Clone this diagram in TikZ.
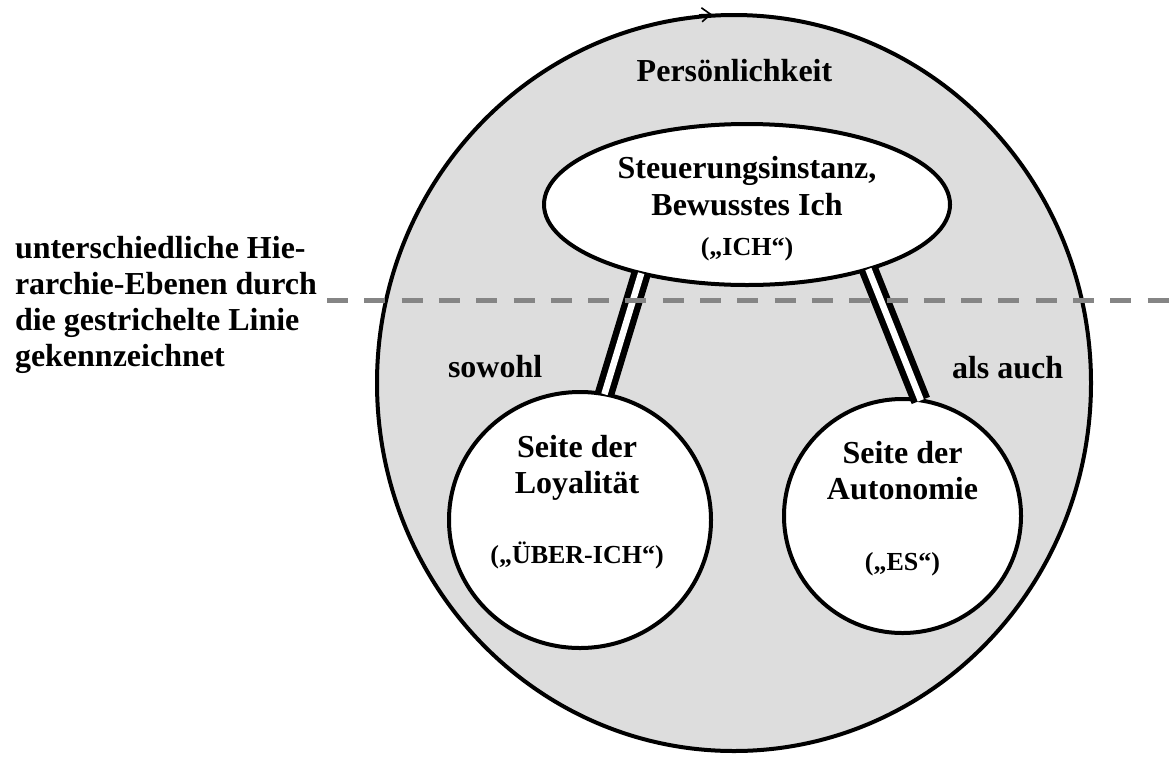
\documentclass[tikz,border=0pt]{standalone}
\usepackage{fontspec}
\setmainfont{Liberation Serif}
\usetikzlibrary{shapes.geometric,arrows.meta}
\definecolor{bgfill}{RGB}{221,221,221}
\definecolor{dashgray}{RGB}{133,133,133}
\begin{document}
\begin{tikzpicture}[x=1pt,y=-1pt,
  outline/.style={draw=black,line width=4pt,inner sep=0pt,outer sep=0pt},
  bubble/.style={outline,fill=white},
  lbl/.style={font=\bfseries\fontsize{32}{37}\selectfont,inner sep=0pt,outer sep=0pt},
  sublbl/.style={font=\bfseries\fontsize{26}{30}\selectfont,inner sep=0pt,outer sep=0pt},
  link/.style={draw=black,double=white,line width=6.5pt,double distance=6.5pt},
  hier/.style={draw=dashgray,line width=5pt,dash pattern=on 21pt off 16.3pt},
  markarrow/.style={line width=1.6pt,-{Straight Barb[length=9pt,width=14pt]}}]
\useasboundingbox (0,0) rectangle (1175,756);
% outer personality ellipse
\node[outline,ellipse,fill=bgfill,minimum width=714pt,minimum height=736pt] (pers) at (734,383) {};
\coordinate (atail) at (699,14.9);
\coordinate (ahead) at (712,14.3);
\draw[markarrow] (atail) -- (ahead);
% inner shapes
\node[bubble,ellipse,minimum width=406pt,minimum height=161pt] (ich) at (747,204.5) {};
\node[bubble,ellipse,minimum width=262pt,minimum height=256pt] (loy) at (580,520) {};
\node[bubble,ellipse,minimum width=237pt,minimum height=234pt] (aut) at (902.5,516) {};
% links
\draw[link] (ich.213) -- (loy.79);
\draw[link] (ich.332) -- (aut.81);
% hierarchy line
\coordinate (hl) at (327,300.5);
\coordinate (hr) at (1175,300.5);
\draw[hier] (hl) -- (hr);
% texts
\node[lbl,anchor=base] (perslbl) at (734.5,81) {Persönlichkeit};
\node[lbl,anchor=base] (ich1) at (747,178) {Steuerungsinstanz,};
\node[lbl,anchor=base] (ich2) at (747,215) {Bewusstes Ich};
\node[sublbl,anchor=base] (ich3) at (747,255) {(„ICH“)};
\node[lbl,anchor=base] (loy1) at (577,457) {Seite der};
\node[lbl,anchor=base] (loy2) at (577,493) {Loyalität};
\node[sublbl,anchor=base] (loy3) at (577,563) {(„ÜBER-ICH“)};
\node[lbl,anchor=base] (aut1) at (902.5,463) {Seite der};
\node[lbl,anchor=base] (aut2) at (902.5,499) {Autonomie};
\node[sublbl,anchor=base] (aut3) at (902.5,570) {(„ES“)};
\node[lbl,anchor=base west] (sow) at (448,377) {sowohl};
\node[lbl,anchor=base west] (als) at (952,378) {als auch};
\node[lbl,anchor=base west] (h1) at (15,258.5) {unterschiedliche Hie-};
\node[lbl,anchor=base west] (h2) at (15,294.5) {rarchie-Ebenen durch};
\node[lbl,anchor=base west] (h3) at (15,330.5) {die gestrichelte Linie};
\node[lbl,anchor=base west] (h4) at (15,366.5) {gekennzeichnet};
\end{tikzpicture}
\end{document}
